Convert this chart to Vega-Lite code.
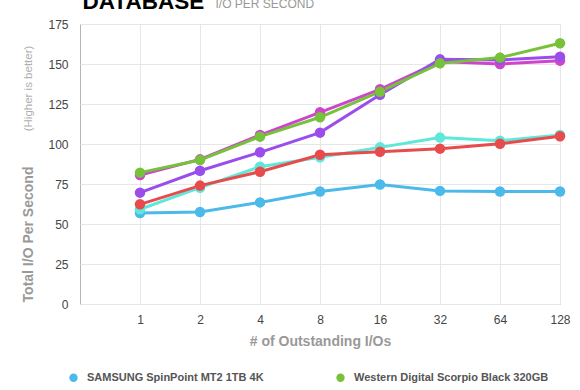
{
  "$schema": "https://vega.github.io/schema/vega-lite/v6.json",
  "width": 480,
  "height": 280,
  "autosize": {"type": "none"},
  "padding": {"left": 80, "top": 24, "right": 20, "bottom": 86},
  "background": "white",
  "config": {
    "font": "Liberation Sans",
    "view": {"stroke": "#b5b5b5", "strokeWidth": 1}
  },
  "data": {
    "values": [
      {"drive": "SAMSUNG SpinPoint MT2 1TB 4K", "qd": 1, "iops": 56.8},
      {"drive": "SAMSUNG SpinPoint MT2 1TB 4K", "qd": 2, "iops": 57.5},
      {"drive": "SAMSUNG SpinPoint MT2 1TB 4K", "qd": 4, "iops": 63.5},
      {"drive": "SAMSUNG SpinPoint MT2 1TB 4K", "qd": 8, "iops": 70.3},
      {"drive": "SAMSUNG SpinPoint MT2 1TB 4K", "qd": 16, "iops": 74.7},
      {"drive": "SAMSUNG SpinPoint MT2 1TB 4K", "qd": 32, "iops": 70.7},
      {"drive": "SAMSUNG SpinPoint MT2 1TB 4K", "qd": 64, "iops": 70.3},
      {"drive": "SAMSUNG SpinPoint MT2 1TB 4K", "qd": 128, "iops": 70.3},
      {"drive": "Series 3", "qd": 1, "iops": 59.2},
      {"drive": "Series 3", "qd": 2, "iops": 72.7},
      {"drive": "Series 3", "qd": 4, "iops": 85.8},
      {"drive": "Series 3", "qd": 8, "iops": 91.7},
      {"drive": "Series 3", "qd": 16, "iops": 97.9},
      {"drive": "Series 3", "qd": 32, "iops": 104.0},
      {"drive": "Series 3", "qd": 64, "iops": 102.1},
      {"drive": "Series 3", "qd": 128, "iops": 105.6},
      {"drive": "Series 4", "qd": 1, "iops": 62.3},
      {"drive": "Series 4", "qd": 2, "iops": 74.0},
      {"drive": "Series 4", "qd": 4, "iops": 82.7},
      {"drive": "Series 4", "qd": 8, "iops": 93.3},
      {"drive": "Series 4", "qd": 16, "iops": 95.2},
      {"drive": "Series 4", "qd": 32, "iops": 97.1},
      {"drive": "Series 4", "qd": 64, "iops": 100.2},
      {"drive": "Series 4", "qd": 128, "iops": 104.8},
      {"drive": "Series 5", "qd": 1, "iops": 80.6},
      {"drive": "Series 5", "qd": 2, "iops": 90.4},
      {"drive": "Series 5", "qd": 4, "iops": 105.6},
      {"drive": "Series 5", "qd": 8, "iops": 119.8},
      {"drive": "Series 5", "qd": 16, "iops": 134.2},
      {"drive": "Series 5", "qd": 32, "iops": 151.5},
      {"drive": "Series 5", "qd": 64, "iops": 150.0},
      {"drive": "Series 5", "qd": 128, "iops": 152.1},
      {"drive": "Series 6", "qd": 1, "iops": 69.6},
      {"drive": "Series 6", "qd": 2, "iops": 83.3},
      {"drive": "Series 6", "qd": 4, "iops": 94.8},
      {"drive": "Series 6", "qd": 8, "iops": 107.1},
      {"drive": "Series 6", "qd": 16, "iops": 130.8},
      {"drive": "Series 6", "qd": 32, "iops": 152.9},
      {"drive": "Series 6", "qd": 64, "iops": 152.5},
      {"drive": "Series 6", "qd": 128, "iops": 154.6},
      {"drive": "Western Digital Scorpio Black 320GB", "qd": 1, "iops": 82.1},
      {"drive": "Western Digital Scorpio Black 320GB", "qd": 2, "iops": 90.0},
      {"drive": "Western Digital Scorpio Black 320GB", "qd": 4, "iops": 104.6},
      {"drive": "Western Digital Scorpio Black 320GB", "qd": 8, "iops": 116.7},
      {"drive": "Western Digital Scorpio Black 320GB", "qd": 16, "iops": 132.7},
      {"drive": "Western Digital Scorpio Black 320GB", "qd": 32, "iops": 150.4},
      {"drive": "Western Digital Scorpio Black 320GB", "qd": 64, "iops": 154.0},
      {"drive": "Western Digital Scorpio Black 320GB", "qd": 128, "iops": 163.0}
    ]
  },
  "layer": [
    {
      "mark": {"type": "line", "strokeWidth": 3, "point": {"filled": true, "size": 110, "opacity": 1}},
      "encoding": {
        "x": {
          "field": "qd",
          "type": "quantitative",
          "scale": {"type": "log", "base": 2, "domain": [0.5, 128], "nice": false},
          "axis": {
            "values": [1, 2, 4, 8, 16, 32, 64, 128],
            "format": "d",
            "grid": true,
            "gridColor": "#e6e6e6",
            "domain": false,
            "ticks": false,
            "labelPadding": 10,
            "labelFontSize": 12,
            "labelColor": "#444444",
            "labelFlush": false,
            "labelOverlap": false,
            "title": "# of Outstanding I/Os",
            "titleFontSize": 14,
            "titleFontWeight": "bold",
            "titleColor": "#999999",
            "titlePadding": 9
          }
        },
        "y": {
          "field": "iops",
          "type": "quantitative",
          "scale": {"domain": [0, 175], "nice": false},
          "axis": {
            "values": [0, 25, 50, 75, 100, 125, 150, 175],
            "grid": true,
            "gridColor": "#e6e6e6",
            "domain": false,
            "ticks": false,
            "labelPadding": 12,
            "labelFontSize": 12,
            "labelColor": "#444444",
            "labelFlush": false,
            "title": "Total I/O Per Second",
            "titleFontSize": 14,
            "titleFontWeight": "bold",
            "titleColor": "#999999",
            "titleAngle": -90,
            "titleAlign": "center",
            "titleBaseline": "bottom",
            "titleX": -45,
            "titleY": 210
          }
        },
        "color": {
          "field": "drive",
          "type": "nominal",
          "scale": {
            "domain": ["SAMSUNG SpinPoint MT2 1TB 4K", "Western Digital Scorpio Black 320GB", "Series 3", "Series 4", "Series 5", "Series 6"],
            "range": ["#4BB9EA", "#77C23A", "#5EE8DA", "#E84B4B", "#CC45CC", "#9B4DEB"]
          },
          "legend": {
            "values": ["SAMSUNG SpinPoint MT2 1TB 4K", "Western Digital Scorpio Black 320GB"],
            "title": null,
            "orient": "none",
            "direction": "horizontal",
            "columns": 2,
            "legendX": -12,
            "legendY": 348,
            "symbolType": "circle",
            "symbolSize": 70,
            "symbolStrokeWidth": 0,
            "labelFontSize": 11,
            "labelFontWeight": "bold",
            "labelColor": "#555555",
            "labelOffset": 8,
            "labelLimit": 400,
            "columnPadding": 71
          }
        }
      }
    },
    {
      "mark": {"type": "point", "opacity": 0},
      "encoding": {
        "x": {
          "field": "qd",
          "type": "quantitative",
          "scale": {"type": "log", "base": 2, "domain": [0.5, 128], "nice": false},
          "axis": {
            "orient": "top",
            "labels": false,
            "ticks": false,
            "domain": false,
            "grid": false,
            "title": "I/O PER SECOND",
            "titleFontSize": 12,
            "titleFontWeight": "normal",
            "titleColor": "#999999",
            "titleAlign": "left",
            "titleAnchor": "start",
            "titleBaseline": "alphabetic",
            "titleX": 135,
            "titleY": -17
          }
        },
        "y": {
          "field": "iops",
          "type": "quantitative",
          "scale": {"domain": [0, 175], "nice": false},
          "axis": {
            "orient": "left",
            "labels": false,
            "ticks": false,
            "domain": false,
            "grid": false,
            "title": "(Higher is better)",
            "titleFontSize": 11.5,
            "titleFontWeight": "normal",
            "titleColor": "#b0b0b0",
            "titleAngle": -90,
            "titleAlign": "center",
            "titleBaseline": "bottom",
            "titleX": -47,
            "titleY": 64
          }
        }
      }
    },
    {
      "mark": {"type": "point", "opacity": 0},
      "encoding": {
        "y": {
          "field": "iops",
          "type": "quantitative",
          "scale": {"domain": [0, 175], "nice": false},
          "axis": {
            "orient": "right",
            "labels": false,
            "ticks": false,
            "domain": false,
            "grid": false,
            "title": "DATABASE",
            "titleFontSize": 22.5,
            "titleFontWeight": "bold",
            "titleColor": "#000000",
            "titleAngle": 0,
            "titleAlign": "left",
            "titleBaseline": "alphabetic",
            "titleX": -478,
            "titleY": -16
          }
        }
      }
    }
  ],
  "resolve": {"axis": {"x": "independent", "y": "independent"}}
}
